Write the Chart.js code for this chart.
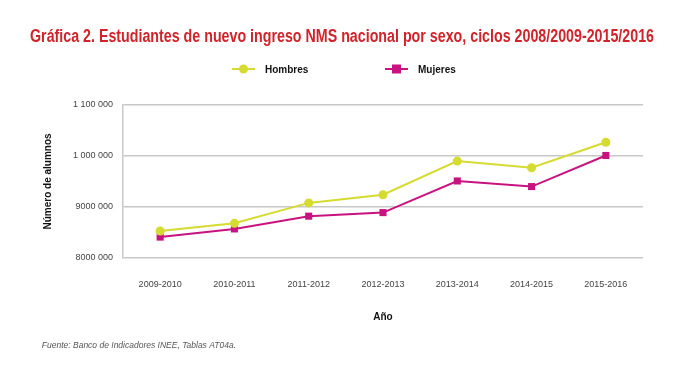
<!DOCTYPE html>
<html>
<head>
<meta charset="utf-8">
<script src="https://cdn.jsdelivr.net/npm/chart.js@4"></script>
<style>
  html, body { margin: 0; padding: 0; background: #fff; }
  #wrap { width: 690px; height: 371px; position: relative; }
</style>
</head>
<body>
<div id="wrap"><canvas id="myChart"></canvas></div>
<script>
const ciclos = ['2009-2010', '2010-2011', '2011-2012', '2012-2013', '2013-2014', '2014-2015', '2015-2016'];
const hombres = [853000, 868000, 908000, 924000, 990000, 977000, 1027000];
const mujeres = [841000, 857000, 882000, 889000, 951000, 940000, 1001000];
const yTickLabels = { 800000: '8000 000', 900000: '9000 000', 1000000: '1 000 000', 1100000: '1 100 000' };

const FONT = "'Liberation Sans', sans-serif";
const TITLE_FONT = "'Liberation Sans Narrow', 'Liberation Sans', sans-serif";
const VERDE = 'rgb(213, 219, 48)';
const MAGENTA = 'rgb(200, 18, 127)';

// legend drawn as line + marker, the way the original shows it
const lineLegend = {
    id: 'lineLegend',
    afterDraw(chart) {
        const ctx = chart.ctx;
        const y = 69;
        const starts = [232, 385];
        ctx.save();
        chart.data.datasets.forEach((ds, i) => {
            const x = starts[i];
            ctx.strokeStyle = ds.borderColor;
            ctx.lineWidth = 2;
            ctx.beginPath();
            ctx.moveTo(x, y);
            ctx.lineTo(x + 23, y);
            ctx.stroke();
            ctx.fillStyle = ds.backgroundColor;
            if (ds.pointStyle === 'rect') {
                ctx.fillRect(x + 11.5 - 4.5, y - 4.5, 9, 9);
            } else {
                ctx.beginPath();
                ctx.arc(x + 11.5, y, 4.5, 0, Math.PI * 2);
                ctx.fill();
            }
            ctx.fillStyle = '#111';
            ctx.font = "bold 10px 'Liberation Sans', sans-serif";
            ctx.textBaseline = 'middle';
            ctx.textAlign = 'left';
            ctx.fillText(ds.label, x + 33, y + 1);
        });
        ctx.restore();
    }
};

const ctx = document.getElementById('myChart').getContext('2d');

new Chart(ctx, {
    type: 'line',
    data: {
        labels: ciclos,
        datasets: [{
            label: 'Hombres',
            data: hombres,
            borderColor: VERDE,
            backgroundColor: VERDE,
            borderWidth: 2,
            pointStyle: 'circle',
            pointRadius: 4.5,
            pointBorderWidth: 0,
            tension: 0
        }, {
            label: 'Mujeres',
            data: mujeres,
            borderColor: MAGENTA,
            backgroundColor: MAGENTA,
            borderWidth: 2,
            pointStyle: 'rect',
            pointRadius: 5,
            pointBorderWidth: 0,
            tension: 0
        }]
    },
    options: {
        responsive: true,
        maintainAspectRatio: false,
        animation: false,
        layout: {
            padding: { top: 26, left: 30, right: 36, bottom: 20 }
        },
        scales: {
            x: {
                offset: true,
                grid: { display: false, drawTicks: false },
                border: { display: false },
                ticks: {
                    color: '#444',
                    padding: 21,
                    font: { family: FONT, size: 9 }
                },
                title: {
                    display: true,
                    text: 'Año',
                    color: '#111',
                    padding: { top: 0, bottom: 0 },
                    font: { family: FONT, size: 10, weight: 'bold' }
                }
            },
            y: {
                min: 800000,
                max: 1100000,
                afterFit: (scale) => { scale.width = 93; },
                grid: { color: '#c8c8c8', lineWidth: 1.5, drawTicks: false },
                border: { display: true, color: '#c8c8c8', width: 1.5 },
                ticks: {
                    stepSize: 100000,
                    color: '#444',
                    padding: 10,
                    font: { family: FONT, size: 9 },
                    callback: (value) => yTickLabels[value] || ''
                },
                title: {
                    display: true,
                    text: 'Número de alumnos',
                    color: '#111',
                    padding: { top: 12, bottom: 0 },
                    font: { family: FONT, size: 10, weight: 'bold' }
                }
            },
            // empty spacer on the right so the plot ends where the original does
            yRight: {
                position: 'right',
                display: true,
                grid: { display: false },
                border: { display: false },
                ticks: { display: false },
                afterFit: (scale) => { scale.width = 11; }
            }
        },
        plugins: {
            legend: { display: false },
            tooltip: { enabled: false },
            title: {
                display: true,
                text: 'Gráfica 2. Estudiantes de nuevo ingreso NMS nacional por sexo, ciclos 2008/2009-2015/2016',
                color: 'rgb(210, 35, 42)',
                padding: { top: 0, bottom: 57 },
                font: { family: TITLE_FONT, size: 18.3, weight: 'bold' }
            },
            subtitle: {
                display: true,
                position: 'bottom',
                align: 'start',
                text: '     Fuente: Banco de Indicadores INEE, Tablas AT04a.',
                color: '#555',
                padding: { top: 18, bottom: 0 },
                font: { family: FONT, size: 8.5, style: 'italic' }
            }
        }
    },
    plugins: [lineLegend]
});
</script>
</body>
</html>
